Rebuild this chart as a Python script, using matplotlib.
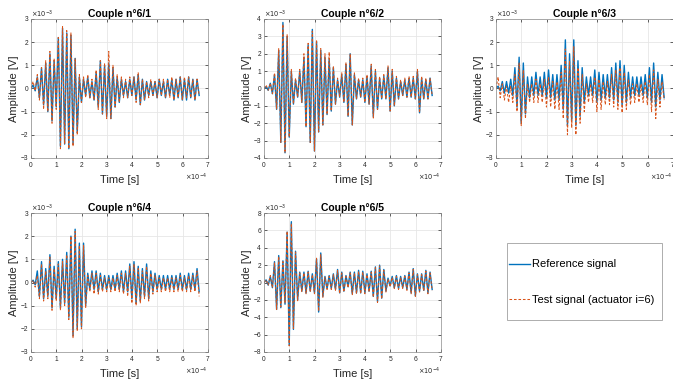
import numpy as np
import matplotlib
matplotlib.use('Agg')
import matplotlib.pyplot as plt
from matplotlib.patches import Rectangle

plt.rcParams['font.family'] = ['Liberation Sans', 'DejaVu Sans']

# time axis end (x1e-4 s) and per-cycle (peak, trough) amplitudes (x1e-3 V)
T_END = 6.65

ref1 = [(0.15, -0.1), (0.5, -0.4), (0.9, -0.7), (1.1, -1.0), (1.5, -1.4),
        (1.2, -0.8), (2.2, -2.5), (2.6, -2.4), (2.4, -2.6), (2.3, -2.4),
        (1.3, -1.9), (0.5, -0.6), (0.4, -0.3), (0.5, -0.4), (0.3, -0.5),
        (0.7, -0.8), (1.2, -1.1), (1.0, -1.2), (1.1, -1.3), (0.9, -0.8),
        (0.5, -0.6), (0.4, -0.3), (0.3, -0.4), (0.4, -0.3), (0.5, -0.5),
        (0.6, -0.7), (0.4, -0.5), (0.3, -0.3), (0.3, -0.3), (0.3, -0.4),
        (0.4, -0.3), (0.3, -0.4), (0.4, -0.3), (0.4, -0.5), (0.4, -0.4),
        (0.5, -0.5), (0.4, -0.5), (0.5, -0.4), (0.4, -0.5), (0.4, -0.3)]
test1 = [(0.3, -0.1), (0.6, -0.5), (0.9, -0.9), (1.2, -1.0), (1.6, -1.5),
         (1.3, -0.9), (2.2, -2.6), (2.7, -2.4), (2.5, -2.6), (2.4, -2.5),
         (1.3, -2.0), (0.6, -0.6), (0.5, -0.4), (0.6, -0.4), (0.4, -0.5),
         (0.8, -0.9), (1.2, -1.1), (1.1, -1.3), (1.6, -1.3), (1.0, -0.8),
         (0.6, -0.6), (0.5, -0.4), (0.4, -0.4), (0.5, -0.3), (0.5, -0.6),
         (0.7, -0.7), (0.4, -0.5), (0.3, -0.4), (0.4, -0.3), (0.3, -0.4),
         (0.4, -0.3), (0.4, -0.4), (0.4, -0.4), (0.5, -0.5), (0.4, -0.4),
         (0.5, -0.5), (0.5, -0.4), (0.5, -0.4), (0.4, -0.5), (0.4, -0.3)]

ref2 = [(0.1, -0.1), (0.3, -0.3), (0.8, -1.2), (2.2, -3.1), (3.8, -3.7),
        (3.0, -2.8), (1.0, -0.9), (0.5, -0.5), (1.0, -0.8), (1.8, -2.2),
        (2.5, -3.1), (3.4, -3.6), (2.7, -2.5), (2.2, -2.1), (1.8, -1.5),
        (1.7, -1.3), (1.2, -0.9), (0.5, -0.5), (0.8, -0.8), (1.4, -1.6),
        (2.0, -2.1), (0.8, -0.6), (0.5, -0.5), (0.5, -0.8), (0.7, -0.9),
        (1.3, -1.6), (1.0, -1.2), (0.6, -0.6), (0.7, -0.6), (1.2, -1.3),
        (1.0, -1.0), (0.6, -0.6), (0.4, -0.4), (0.5, -0.5), (0.6, -0.5),
        (0.6, -0.6), (1.0, -1.4), (0.6, -0.6), (0.5, -0.6), (0.6, -0.4)]
test2 = [(0.2, -0.1), (0.3, -0.3), (0.9, -1.2), (2.3, -3.1), (3.7, -3.7),
         (3.1, -2.8), (1.1, -0.9), (0.6, -0.5), (1.1, -0.8), (2.0, -2.2),
         (2.6, -3.1), (3.3, -3.6), (2.8, -2.5), (2.3, -2.1), (2.0, -1.5),
         (2.1, -1.3), (1.3, -0.9), (0.6, -0.5), (0.9, -0.8), (1.5, -1.6),
         (2.0, -2.1), (0.9, -0.6), (0.6, -0.5), (0.6, -0.8), (0.8, -0.9),
         (1.4, -1.7), (1.1, -1.2), (0.7, -0.6), (0.8, -0.6), (1.3, -1.3),
         (1.1, -1.0), (0.7, -0.6), (0.5, -0.4), (0.6, -0.5), (0.7, -0.5),
         (0.7, -0.6), (1.1, -1.4), (0.7, -0.6), (0.6, -0.6), (0.6, -0.4)]

ref3 = [(0.1, -0.1), (0.3, -0.2), (0.3, -0.2), (0.4, -0.3), (0.9, -0.8),
        (1.35, -1.5), (1.1, -1.1), (0.5, -0.4), (0.5, -0.3), (0.7, -0.3),
        (0.5, -0.3), (0.7, -0.4), (0.8, -0.4), (0.6, -0.5), (0.6, -0.5),
        (1.0, -0.9), (2.1, -1.6), (1.5, -1.4), (2.1, -1.6), (1.2, -1.2),
        (0.9, -0.6), (0.5, -0.3), (0.5, -0.3), (0.8, -0.6), (0.7, -0.5),
        (0.6, -0.4), (0.6, -0.4), (0.9, -0.5), (1.1, -0.6), (1.2, -0.7),
        (1.0, -0.6), (0.7, -0.4), (0.5, -0.3), (0.5, -0.3), (0.5, -0.3),
        (0.6, -0.4), (0.9, -0.6), (1.1, -0.8), (0.7, -0.5), (0.6, -0.4)]
test3 = [(0.5, -0.4), (0.2, -0.5), (0.1, -0.6), (0.1, -0.6), (0.6, -1.0),
         (1.1, -1.6), (0.8, -1.3), (0.2, -0.6), (0.2, -0.6), (0.4, -0.6),
         (0.2, -0.6), (0.4, -0.8), (0.5, -0.8), (0.3, -0.9), (0.3, -0.9),
         (0.7, -1.3), (1.7, -2.0), (1.2, -1.7), (1.8, -2.0), (0.9, -1.5),
         (0.6, -1.0), (0.2, -0.6), (0.2, -0.6), (0.5, -1.0), (0.4, -0.9),
         (0.3, -0.7), (0.3, -0.7), (0.6, -0.8), (0.8, -0.9), (0.9, -1.05),
         (0.7, -0.9), (0.4, -0.7), (0.2, -0.6), (0.2, -0.6), (0.2, -0.6),
         (0.3, -0.7), (0.6, -1.0), (0.8, -1.3), (0.4, -0.8), (0.3, -0.5)]

ref4 = [(0.1, -0.1), (0.5, -0.6), (0.9, -0.7), (0.6, -0.6), (1.2, -1.1),
        (0.7, -0.7), (0.9, -1.1), (1.0, -0.9), (1.3, -1.5), (2.0, -2.3),
        (2.3, -2.0), (1.7, -1.9), (1.7, -1.0), (0.4, -0.3), (0.5, -0.3),
        (0.5, -0.4), (0.4, -0.3), (0.3, -0.3), (0.3, -0.3), (0.3, -0.3),
        (0.4, -0.3), (0.5, -0.4), (0.5, -0.4), (0.8, -0.7), (0.9, -0.9),
        (0.7, -0.8), (0.6, -0.6), (0.8, -0.7), (0.5, -0.4), (0.4, -0.3),
        (0.3, -0.3), (0.3, -0.3), (0.3, -0.3), (0.3, -0.3), (0.3, -0.3),
        (0.4, -0.3), (0.3, -0.3), (0.4, -0.3), (0.4, -0.3), (0.6, -0.4)]
test4 = [(0.1, -0.2), (0.3, -0.7), (0.8, -0.8), (0.5, -0.7), (1.1, -1.2),
         (0.6, -0.8), (0.8, -1.2), (0.9, -1.0), (1.2, -1.6), (2.0, -2.4),
         (2.2, -2.1), (1.6, -2.0), (1.6, -1.1), (0.3, -0.4), (0.4, -0.5),
         (0.4, -0.5), (0.3, -0.4), (0.2, -0.4), (0.2, -0.4), (0.2, -0.4),
         (0.3, -0.4), (0.4, -0.5), (0.4, -0.6), (0.7, -0.9), (0.8, -1.0),
         (0.6, -0.9), (0.5, -0.7), (0.7, -0.8), (0.4, -0.5), (0.3, -0.4),
         (0.2, -0.4), (0.2, -0.4), (0.2, -0.4), (0.2, -0.4), (0.2, -0.4),
         (0.3, -0.4), (0.2, -0.4), (0.3, -0.4), (0.3, -0.4), (0.5, -0.6)]

ref5 = [(0.3, -0.3), (0.7, -0.6), (2.4, -3.1), (3.1, -2.9), (2.5, -2.5),
        (5.8, -7.2), (7.0, -5.4), (3.6, -2.0), (1.2, -1.0), (1.2, -1.2),
        (1.3, -1.0), (1.0, -1.2), (2.7, -3.4), (3.4, -1.6), (0.7, -0.7),
        (0.8, -0.7), (1.0, -0.8), (1.5, -1.2), (1.2, -1.0), (0.8, -0.5),
        (1.2, -1.3), (1.2, -1.2), (1.4, -1.2), (1.3, -1.2), (1.0, -1.0),
        (1.3, -1.6), (1.8, -2.2), (2.0, -1.8), (1.5, -1.0), (0.5, -0.4),
        (0.7, -0.6), (0.8, -0.7), (0.7, -0.6), (0.8, -0.8), (1.2, -1.2),
        (1.6, -1.5), (1.0, -1.0), (1.0, -0.9), (1.4, -1.2), (1.2, -0.8)]
test5 = [(0.3, -0.3), (0.8, -0.6), (2.3, -3.1), (3.0, -2.8), (2.4, -2.4),
         (5.9, -7.3), (6.8, -5.3), (3.5, -2.1), (1.1, -1.1), (1.1, -1.3),
         (1.2, -1.1), (0.9, -1.3), (2.8, -3.3), (3.2, -1.7), (0.6, -0.8),
         (0.7, -0.8), (0.9, -0.9), (1.4, -1.3), (1.1, -1.1), (0.7, -0.6),
         (1.1, -1.4), (1.1, -1.3), (1.3, -1.3), (1.2, -1.3), (0.9, -1.1),
         (1.2, -1.7), (1.7, -2.3), (1.9, -1.9), (1.4, -1.1), (0.4, -0.5),
         (0.6, -0.7), (0.7, -0.8), (0.6, -0.7), (0.7, -0.9), (1.1, -1.3),
         (1.5, -1.6), (0.9, -1.1), (0.9, -1.0), (1.3, -1.3), (1.1, -0.9)]

titles = ['Couple n°6/1', 'Couple n°6/2', 'Couple n°6/3', 'Couple n°6/4', 'Couple n°6/5']
ylims = [3, 4, 3, 3, 8]
ysteps = [1, 1, 1, 1, 2]
series = [(ref1, test1), (ref2, test2), (ref3, test3), (ref4, test4), (ref5, test5)]
legend_labels = ['Reference signal', 'Test signal (actuator i=6)']

BLUE = '#0072BD'
ORANGE = '#D95319'
AX_COLOR = '#262626'

W, H = 673, 383
# axes boxes in pixels (left, top, right, bottom)
boxes = [(31, 19, 208, 158), (264, 19, 441, 158), (496, 19, 673, 158),
         (31, 213, 208, 352), (264, 213, 441, 352)]


def draw_panel(ax, ref, test, title, ylim, ystep):
    """Draw one couple: reference (solid) and test (dashed) signals"""
    y_ref = np.concatenate([[0.0], np.ravel(ref)])
    y_test = np.concatenate([[0.0], np.ravel(test)])
    t = np.linspace(0, T_END, len(y_ref))
    ax.plot(t, y_ref, color=BLUE, lw=1.0)
    ax.plot(t, y_test, color=ORANGE, lw=0.75, ls='--', dashes=(2.5, 1.8))

    ax.set_xlim(0, 7)
    ax.set_ylim(-ylim, ylim)
    ax.set_xticks(np.arange(0, 8, 1))
    ax.set_yticks(np.arange(-ylim, ylim + 1, ystep))
    ax.grid(True, color='#e6e6e6', lw=0.6)
    ax.set_axisbelow(True)
    ax.tick_params(direction='in', length=2, width=0.5, labelsize=4.8,
                   colors=AX_COLOR, top=True, right=True)
    ax.tick_params(axis='x', pad=3.2)
    ax.tick_params(axis='y', pad=2.2)
    for sp in ax.spines.values():
        sp.set_color('#8c8c8c')
        sp.set_linewidth(0.5)
    ax.set_title(title, fontsize=7.5, fontweight='bold', pad=1.5)
    ax.set_xlabel('Time [s]', fontsize=8, color=AX_COLOR, labelpad=4)
    ax.set_ylabel('Amplitude [V]', fontsize=8, color=AX_COLOR, labelpad=1)
    ax.text(0.0, 1.036, r'$\times10^{-3}$', transform=ax.transAxes,
            fontsize=4.8, color=AX_COLOR, ha='left', va='center')
    ax.text(1.0, -0.137, r'$\times10^{-4}$', transform=ax.transAxes,
            fontsize=4.8, color=AX_COLOR, ha='right', va='center')


fig = plt.figure(figsize=(W / 100, H / 100), dpi=100)

handles = None
for (l, tp, r, b), (ref, test), title, yl, ys in zip(boxes, series, titles, ylims, ysteps):
    ax = fig.add_axes([l / W, (H - b) / H, (r - l) / W, (b - tp) / H])
    draw_panel(ax, ref, test, title, yl, ys)
    if handles is None:
        handles = ax.get_lines()

# legend box
lx0, ly0, lx1, ly1 = 507, 243, 662, 320
lax = fig.add_axes([lx0 / W, (H - ly1) / H, (lx1 - lx0) / W, (ly1 - ly0) / H])
lax.axis('off')
lax.add_patch(Rectangle((0, 0), 1, 1, transform=lax.transAxes, fill=False,
                        ec='#a0a0a0', lw=0.6, clip_on=False))
lax.legend(handles, legend_labels, loc='center left', bbox_to_anchor=(0.01, 0.49),
           borderaxespad=0, borderpad=0, fontsize=8, labelspacing=2.3,
           handlelength=1.9, handletextpad=0.2, frameon=False)

fig.savefig('out.png', dpi=100)
